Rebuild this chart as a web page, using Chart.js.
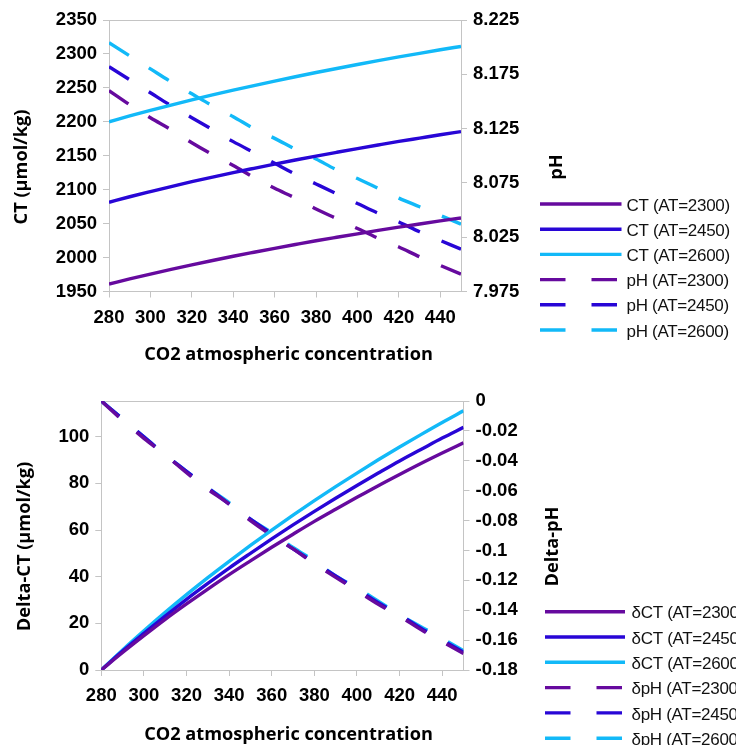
<!DOCTYPE html>
<html>
<head>
<meta charset="utf-8">
<script src="https://cdn.jsdelivr.net/npm/chart.js@4"></script>
<style>
  html, body { margin: 0; padding: 0; background: #fff; }
  canvas { position: absolute; left: 0; }
  #c1 { top: 0; }
  #c2 { top: 372px; }
</style>
</head>
<body>
<canvas id="c1" width="736" height="372"></canvas>
<canvas id="c2" width="736" height="373"></canvas>
<script>
// Atmospheric CO2 (ppm)
const co2 = [280, 290, 300, 310, 320, 330, 340, 350, 360, 370, 380, 390, 400, 410, 420, 430, 440, 450];
const co2Ticks = [280, 300, 320, 340, 360, 380, 400, 420, 440];

// Total dissolved inorganic carbon CT (µmol/kg) for three alkalinities
const ct2300 = [1961.0, 1968.5, 1975.7, 1982.7, 1989.3, 1995.7, 2001.9, 2007.8, 2013.6, 2019.2, 2024.7, 2029.9, 2035.0, 2040.0, 2044.8, 2049.5, 2054.0, 2058.4];
const ct2450 = [2081.5, 2089.6, 2097.2, 2104.6, 2111.8, 2118.6, 2125.2, 2131.5, 2137.7, 2143.7, 2149.5, 2155.1, 2160.6, 2165.9, 2171.1, 2176.0, 2180.9, 2185.5];
const ct2600 = [2200.0, 2208.6, 2216.8, 2224.7, 2232.3, 2239.6, 2246.6, 2253.4, 2260.0, 2266.4, 2272.6, 2278.6, 2284.4, 2290.1, 2295.6, 2300.9, 2306.1, 2311.1];

// Seawater pH
const ph2300 = [8.160, 8.147, 8.135, 8.124, 8.112, 8.101, 8.091, 8.080, 8.070, 8.061, 8.051, 8.042, 8.033, 8.024, 8.016, 8.007, 7.999, 7.991];
const ph2450 = [8.182, 8.170, 8.158, 8.146, 8.135, 8.124, 8.113, 8.103, 8.093, 8.083, 8.074, 8.065, 8.056, 8.047, 8.039, 8.030, 8.022, 8.014];
const ph2600 = [8.204, 8.192, 8.180, 8.168, 8.157, 8.146, 8.136, 8.125, 8.116, 8.106, 8.097, 8.087, 8.079, 8.070, 8.061, 8.053, 8.045, 8.037];

// Changes relative to the pre-industrial 280 ppm state
const dct2300 = [0, 7.5, 14.7, 21.7, 28.3, 34.7, 40.9, 46.8, 52.6, 58.2, 63.7, 68.9, 74.0, 79.0, 83.8, 88.5, 93.0, 97.4];
const dct2450 = [0, 8.1, 15.7, 23.1, 30.3, 37.1, 43.7, 50.0, 56.2, 62.2, 68.0, 73.6, 79.1, 84.4, 89.6, 94.5, 99.4, 104.0];
const dct2600 = [0, 8.6, 16.8, 24.7, 32.3, 39.6, 46.6, 53.4, 60.0, 66.4, 72.6, 78.6, 84.4, 90.1, 95.6, 100.9, 106.1, 111.1];

const dph2300 = [0, -0.013, -0.025, -0.036, -0.048, -0.059, -0.069, -0.080, -0.090, -0.099, -0.109, -0.118, -0.127, -0.136, -0.144, -0.153, -0.161, -0.169];
const dph2450 = [0, -0.012, -0.024, -0.036, -0.047, -0.058, -0.069, -0.079, -0.089, -0.099, -0.108, -0.117, -0.126, -0.135, -0.143, -0.152, -0.160, -0.168];
const dph2600 = [0, -0.012, -0.024, -0.036, -0.047, -0.058, -0.068, -0.079, -0.088, -0.098, -0.107, -0.117, -0.125, -0.134, -0.143, -0.151, -0.159, -0.167];

const ctTicks = [1950, 2000, 2050, 2100, 2150, 2200, 2250, 2300, 2350];
const phTicks = [7.975, 8.025, 8.075, 8.125, 8.175, 8.225];
const dctTicks = [0, 20, 40, 60, 80, 100];
const dphTicks = [-0.18, -0.16, -0.14, -0.12, -0.1, -0.08, -0.06, -0.04, -0.02, 0];

const PURPLE = '#660a9e';
const BLUE = '#2806d6';
const CYAN = '#12b9f8';
const AXIS = '#c4c4c4';
const DASH = [23.5, 23.5];
const TICK_FONT = { family: '"Liberation Sans", Arial, sans-serif', size: 18.5, weight: 'bold' };
const TITLE_FONT = 'bold 18.2px "Open Sans", "DejaVu Sans", sans-serif';
const LEGEND_FONT = '17px "Liberation Sans", Arial, sans-serif';

Chart.defaults.color = '#000';
Chart.defaults.animation = false;

const pts = ys => co2.map((x, i) => ({ x: x, y: ys[i] }));
const useTicks = values => scale => { scale.ticks = values.map(v => ({ value: v })); };
const fmt = v => String(parseFloat(v.toFixed(3)));

function line(label, ys, color, axis, dashed) {
  return {
    label: label,
    data: pts(ys),
    yAxisID: axis,
    borderColor: color,
    backgroundColor: color,
    borderWidth: 3.4,
    borderDash: dashed ? DASH : [],
    borderCapStyle: 'butt',
    pointRadius: 0,
    cubicInterpolationMode: 'monotone',
    fill: false
  };
}

// Frame, rotated axis titles and the side legend
const decor = {
  id: 'decor',
  beforeDatasetsDraw(chart) {
    const { ctx, chartArea: a } = chart;
    ctx.save();
    ctx.strokeStyle = AXIS;
    ctx.lineWidth = 1;
    ctx.beginPath();
    ctx.moveTo(a.left, a.top + 0.5);
    ctx.lineTo(a.right, a.top + 0.5);
    ctx.stroke();
    ctx.restore();
  },
  afterDraw(chart, args, opts) {
    const ctx = chart.ctx;
    ctx.save();
    ctx.fillStyle = '#000';
    ctx.font = TITLE_FONT;
    ctx.textAlign = 'center';
    ctx.textBaseline = 'middle';
    for (const t of opts.titles) {
      ctx.save();
      ctx.translate(t.x, t.y);
      ctx.rotate(t.angle || 0);
      ctx.fillText(t.text, 0, 0);
      ctx.restore();
    }
    const L = opts.legend;
    ctx.font = LEGEND_FONT;
    ctx.textAlign = 'left';
    ctx.textBaseline = 'middle';
    if ('letterSpacing' in ctx) ctx.letterSpacing = '-0.3px';
    chart.data.datasets.forEach((ds, i) => {
      const y = L.y0 + i * L.dy;
      ctx.strokeStyle = ds.borderColor;
      ctx.lineWidth = 3.4;
      ctx.lineCap = 'butt';
      ctx.setLineDash(ds.borderDash.length ? [25.5, 26] : []);
      ctx.beginPath();
      ctx.moveTo(L.x0, y);
      ctx.lineTo(L.x1, y);
      ctx.stroke();
      ctx.setLineDash([]);
      ctx.fillStyle = '#111';
      ctx.fillText(ds.label, L.tx, y + 2);
    });
    ctx.restore();
  }
};

function axisX(height) {
  return {
    type: 'linear', min: 280, max: 450,
    afterBuildTicks: useTicks(co2Ticks),
    afterFit: s => { s.height = height; },
    grid: { drawOnChartArea: false, tickLength: 6, color: AXIS },
    border: { color: AXIS, width: 1 },
    ticks: { font: TICK_FONT, padding: 9, maxRotation: 0, autoSkip: false }
  };
}

function axisY(pos, min, max, ticks, width) {
  return {
    type: 'linear', position: pos, min: min, max: max,
    afterBuildTicks: useTicks(ticks),
    afterFit: s => { s.width = width; },
    grid: { drawOnChartArea: false, tickLength: 6, color: AXIS },
    border: { color: AXIS, width: 1 },
    ticks: { font: TICK_FONT, padding: 6, autoSkip: false, callback: v => fmt(v) }
  };
}

new Chart(document.getElementById('c1'), {
  type: 'line',
  data: {
    datasets: [
      line('CT (AT=2300)', ct2300, PURPLE, 'y', false),
      line('CT (AT=2450)', ct2450, BLUE, 'y', false),
      line('CT (AT=2600)', ct2600, CYAN, 'y', false),
      line('pH (AT=2300)', ph2300, PURPLE, 'y1', true),
      line('pH (AT=2450)', ph2450, BLUE, 'y1', true),
      line('pH (AT=2600)', ph2600, CYAN, 'y1', true)
    ]
  },
  options: {
    responsive: false,
    layout: { padding: { top: 20, left: 0, right: 0, bottom: 0 } },
    scales: {
      x: axisX(80.5),
      y: axisY('left', 1950, 2350, ctTicks, 109),
      y1: axisY('right', 7.975, 8.225, phTicks, 275)
    },
    plugins: {
      legend: { display: false },
      tooltip: { enabled: false },
      decor: {
        titles: [
          { text: 'CT (µmol/kg)', x: 22, y: 167, angle: -Math.PI / 2 },
          { text: 'pH', x: 557, y: 167, angle: -Math.PI / 2 },
          { text: 'CO2 atmospheric concentration', x: 288.5, y: 355 }
        ],
        legend: { x0: 540, x1: 621.5, tx: 626.5, y0: 204, dy: 25.2 }
      }
    }
  },
  plugins: [decor]
});

new Chart(document.getElementById('c2'), {
  type: 'line',
  data: {
    datasets: [
      line('δCT (AT=2300)', dct2300, PURPLE, 'y', false),
      line('δCT (AT=2450)', dct2450, BLUE, 'y', false),
      line('δCT (AT=2600)', dct2600, CYAN, 'y', false),
      line('δpH (AT=2300)', dph2300, PURPLE, 'y1', true),
      line('δpH (AT=2450)', dph2450, BLUE, 'y1', true),
      line('δpH (AT=2600)', dph2600, CYAN, 'y1', true)
    ]
  },
  options: {
    responsive: false,
    layout: { padding: { top: 29, left: 0, right: 0, bottom: 0 } },
    scales: {
      x: axisX(75),
      y: axisY('left', 0, 115.3, dctTicks, 101.3),
      y1: axisY('right', -0.18, 0, dphTicks, 272.5)
    },
    plugins: {
      legend: { display: false },
      tooltip: { enabled: false },
      decor: {
        titles: [
          { text: 'Delta-CT (µmol/kg)', x: 24.5, y: 174.5, angle: -Math.PI / 2 },
          { text: 'Delta-pH', x: 553, y: 174.5, angle: -Math.PI / 2 },
          { text: 'CO2 atmospheric concentration', x: 288.5, y: 363 }
        ],
        legend: { x0: 545, x1: 625, tx: 631.5, y0: 239.7, dy: 25.3 }
      }
    }
  },
  plugins: [decor]
});
</script>
</body>
</html>
